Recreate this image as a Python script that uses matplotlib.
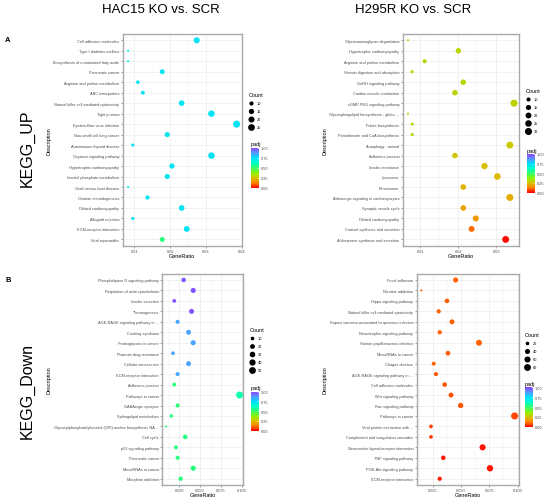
import numpy as np
import matplotlib
matplotlib.use('Agg')
import matplotlib.pyplot as plt
from matplotlib.colors import LinearSegmentedColormap, Normalize
from matplotlib.cm import ScalarMappable
from matplotlib.lines import Line2D
from matplotlib.ticker import MultipleLocator, FormatStrFormatter

plt.rcParams['font.family'] = ['Liberation Sans', 'DejaVu Sans']

# ---- data ----
up_hac_terms = ['Cell adhesion molecules', 'Type I diabetes mellitus',
                'Biosynthesis of unsaturated fatty acids', 'Pancreatic cancer',
                'Arginine and proline metabolism', 'ABC transporters',
                'Natural killer cell mediated cytotoxicity', 'Tight junction',
                'Epstein-Barr virus infection', 'Non-small cell lung cancer',
                'Autoimmune thyroid disease', 'Oxytocin signaling pathway',
                'Hypertrophic cardiomyopathy', 'Inositol phosphate metabolism',
                'Graft-versus-host disease', 'Ovarian steroidogenesis',
                'Dilated cardiomyopathy', 'Allograft rejection',
                'ECM-receptor interaction', 'Viral myocarditis']
up_hac_ratio = [0.0274, 0.0083, 0.0083, 0.0178, 0.0110, 0.0124, 0.0232, 0.0315, 0.0385, 0.0192,
                0.0096, 0.0315, 0.0205, 0.0192, 0.0083, 0.0137, 0.0232, 0.0096, 0.0246, 0.0178]
up_hac_count = [20, 6, 6, 13, 8, 9, 17, 23, 28, 14, 7, 23, 15, 14, 6, 10, 17, 7, 18, 13]
up_hac_padj = [0.72] * 19 + [0.52]

up_h295_terms = ['Glycosaminoglycan degradation', 'Hypertrophic cardiomyopathy',
                 'Arginine and proline metabolism', 'Vitamin digestion and absorption',
                 'GnRH signaling pathway', 'Cardiac muscle contraction',
                 'cGMP-PKG signaling pathway', 'Glycosphingolipid biosynthesis - globo ...',
                 'Folate biosynthesis', 'Pantothenate and CoA biosynthesis',
                 'Autophagy - animal', 'Adherens junction', 'Insulin resistance',
                 'Lysosome', 'Peroxisome', 'Adrenergic signaling in cardiomyocytes',
                 'Synaptic vesicle cycle', 'Dilated cardiomyopathy',
                 'Cortisol synthesis and secretion', 'Aldosterone synthesis and secretion']
up_h295_ratio = [0.0067, 0.0200, 0.0111, 0.0078, 0.0213, 0.0191, 0.0347, 0.0067, 0.0078, 0.0078,
                 0.0336, 0.0191, 0.0269, 0.0303, 0.0213, 0.0336, 0.0213, 0.0246, 0.0235, 0.0325]
up_h295_count = [6, 17, 10, 7, 18, 17, 30, 6, 7, 7, 29, 17, 23, 26, 18, 29, 18, 21, 20, 28]
up_h295_padj = [0.31, 0.30, 0.30, 0.30, 0.30, 0.29, 0.29, 0.30, 0.30, 0.30,
                0.27, 0.26, 0.25, 0.24, 0.23, 0.21, 0.19, 0.17, 0.10, 0.01]

down_hac_terms = ['Phospholipase D signaling pathway', 'Regulation of actin cytoskeleton',
                  'Insulin secretion', 'Thermogenesis', 'AGE-RAGE signaling pathway in ...',
                  'Cushing syndrome', 'Proteoglycans in cancer', 'Platinum drug resistance',
                  'Cellular senescence', 'ECM-receptor interaction', 'Adherens junction',
                  'Pathways in cancer', 'GABAergic synapse', 'Sphingolipid metabolism',
                  'Glycosylphosphatidylinositol (GPI)-anchor biosynthesis NA ...',
                  'Cell cycle', 'p53 signaling pathway', 'Pancreatic cancer',
                  'MicroRNAs in cancer', 'Morphine addiction']
down_hac_ratio = [0.0302, 0.0417, 0.0190, 0.0397, 0.0230, 0.0361, 0.0417, 0.0175, 0.0361, 0.0230,
                  0.0190, 0.0972, 0.0230, 0.0155, 0.0091, 0.0321, 0.0210, 0.0230, 0.0417, 0.0266]
down_hac_count = [17, 24, 11, 23, 13, 21, 24, 10, 21, 13, 11, 55, 13, 9, 5, 18, 12, 13, 24, 15]
down_hac_padj = [0.97, 0.97, 0.97, 0.97, 0.85, 0.85, 0.85, 0.85, 0.85, 0.84,
                 0.53, 0.58, 0.53, 0.53, 0.53, 0.53, 0.53, 0.53, 0.53, 0.53]

down_h295_terms = ['Focal adhesion', 'Nicotine addiction', 'Hippo signaling pathway',
                   'Natural killer cell mediated cytotoxicity',
                   'Kaposi sarcoma-associated herpesvirus infection',
                   'Neurotrophin signaling pathway', 'Human papillomavirus infection',
                   'MicroRNAs in cancer', 'Chagas disease', 'AGE-RAGE signaling pathway in ...',
                   'Cell adhesion molecules', 'Wnt signaling pathway', 'Ras signaling pathway',
                   'Pathways in cancer', 'Viral protein interaction with ...',
                   'Complement and coagulation cascades',
                   'Neuroactive ligand-receptor interaction', 'TNF signaling pathway',
                   'PI3K-Akt signaling pathway', 'ECM-receptor interaction']
down_h295_ratio = [0.0453, 0.0150, 0.0376, 0.0303, 0.0421, 0.0312, 0.0659, 0.0385, 0.0259, 0.0279,
                   0.0356, 0.0412, 0.0497, 0.0974, 0.0235, 0.0235, 0.0691, 0.0344, 0.0756, 0.0312]
down_h295_count = [40, 13, 33, 27, 37, 27, 58, 34, 23, 25, 31, 36, 44, 86, 21, 21, 61, 30, 67, 27]
down_h295_padj = [0.09, 0.09, 0.09, 0.09, 0.09, 0.09, 0.09, 0.09, 0.09, 0.08,
                  0.08, 0.08, 0.08, 0.07, 0.06, 0.06, 0.02, 0.02, 0.02, 0.03]

# ---- styling ----
W, H = 550, 502
padj_cmap = LinearSegmentedColormap.from_list('padj', [
    (0.00, '#FF0000'), (0.12, '#FF8000'), (0.25, '#D8C000'), (0.35, '#99EE00'),
    (0.50, '#33FF66'), (0.62, '#00FFCC'), (0.75, '#00DDFF'), (0.87, '#5599FF'),
    (1.00, '#9040FF')])
GREY_TXT = '#4D4D4D'


def box(l, t, r, b):
    return [l / W, 1 - b / H, (r - l) / W, (b - t) / H]


def dot_diam(c, cmin, cmax, dmin=1.5, dmax=5.1):
    x = np.clip((np.asarray(c, float) - cmin) / (cmax - cmin), 0, 1)
    return dmin + np.sqrt(x) * (dmax - dmin)


def dotplot(fig, rect, terms, ratio, count, padj, step, fmt, breaks, leg_xy, cbar_rect, ylab_x, xlab_y):
    ax = fig.add_axes(box(*rect))
    y = np.arange(len(terms))
    cmin, cmax = min(count), max(count)
    ax.scatter(ratio, y, s=dot_diam(count, cmin, cmax) ** 2, c=padj, cmap=padj_cmap,
               vmin=0, vmax=1, linewidths=0, zorder=3)
    ax.set_ylim(len(terms) - 0.4, -0.6)
    ax.set_yticks(y)
    ax.set_yticklabels(terms, fontsize=2.7, color=GREY_TXT)
    ax.xaxis.set_major_locator(MultipleLocator(step))
    ax.xaxis.set_minor_locator(MultipleLocator(step / 2))
    ax.xaxis.set_major_formatter(FormatStrFormatter(fmt))
    ax.tick_params(axis='both', which='major', labelsize=2.8, labelcolor=GREY_TXT,
                   length=1.2, width=0.4, color='#555555', pad=1.2)
    ax.tick_params(axis='x', which='minor', length=0)
    ax.grid(True, which='major', color='#EBEBEB', lw=0.5, zorder=0)
    ax.grid(True, which='minor', axis='x', color='#F2F2F2', lw=0.3, zorder=0)
    ax.set_axisbelow(True)
    for sp in ax.spines.values():
        sp.set_color('#AAAAAA')
        sp.set_linewidth(1.0)

    l, t, r, b = rect
    fig.text(ylab_x / W, 1 - (t + b) / 2 / H, 'Description', rotation=90,
             ha='center', va='center', fontsize=4)
    fig.text((l + r) / 2 / W, 1 - xlab_y / H, 'GeneRatio', ha='center', va='center', fontsize=4)

    handles = [Line2D([], [], ls='none', marker='o', color='black', markeredgewidth=0,
                      markersize=dot_diam(bk, cmin, cmax)) for bk in breaks]
    ax.legend(handles, [str(bk) for bk in breaks], title='Count', loc='upper left',
              bbox_to_anchor=(leg_xy[0] / W, 1 - leg_xy[1] / H), bbox_transform=fig.transFigure,
              frameon=False, fontsize=2.8, title_fontsize=4, borderpad=0, borderaxespad=0,
              handlelength=1.0, handletextpad=0.9, labelspacing=1.05, alignment='left')

    cax = fig.add_axes(box(*cbar_rect))
    cb = fig.colorbar(ScalarMappable(Normalize(0, 1), padj_cmap), cax=cax)
    cb.set_ticks([0, 0.25, 0.5, 0.75, 1.0])
    cb.set_ticklabels(['0.00', '0.25', '0.50', '0.75', '1.00'])
    cb.outline.set_visible(False)
    cax.tick_params(labelsize=2.8, labelcolor=GREY_TXT, length=1.3, width=0.4,
                    color='white', direction='in', pad=1.5)
    cax.set_title('padj', fontsize=4, loc='left', pad=1.5)
    return ax


fig = plt.figure(figsize=(W / 100, H / 100), dpi=100)

dotplot(fig, (122.7, 35, 242, 246.7), up_hac_terms, up_hac_ratio, up_hac_count, up_hac_padj,
        0.01, '%.2f', [10, 15, 20, 25], (249, 93), (251, 148.5, 258.5, 189), 49, 257)
dotplot(fig, (402.7, 35, 519.3, 246.7), up_h295_terms, up_h295_ratio, up_h295_count, up_h295_padj,
        0.01, '%.2f', [10, 15, 20, 25, 30], (526, 89), (527, 155, 534.5, 193.5), 325, 257)
dotplot(fig, (162.3, 274.7, 243.3, 486), down_hac_terms, down_hac_ratio, down_hac_count, down_hac_padj,
        0.025, '%.3f', [10, 20, 30, 40, 50], (250, 328), (251, 392.5, 259, 431.5), 49, 496)
dotplot(fig, (416.7, 274.7, 519.3, 486), down_h295_terms, down_h295_ratio, down_h295_count, down_h295_padj,
        0.025, '%.3f', [20, 40, 60, 80], (525, 333), (525, 388, 533, 428), 325, 496)

fig.text(161 / W, 1 - 10 / H, 'HAC15 KO vs. SCR', ha='center', va='center', fontsize=9.5)
fig.text(413 / W, 1 - 10 / H, 'H295R KO vs. SCR', ha='center', va='center', fontsize=9.5)
fig.text(8 / W, 1 - 41 / H, 'A', ha='center', va='center', fontsize=5.5, fontweight='bold')
fig.text(8 / W, 1 - 281 / H, 'B', ha='center', va='center', fontsize=5.5, fontweight='bold')
fig.text(27 / W, 1 - 148 / H, 'KEGG_UP', rotation=90, ha='center', va='center', fontsize=11.5)
fig.text(27 / W, 1 - 391 / H, 'KEGG_Down', rotation=90, ha='center', va='center', fontsize=11.5)

fig.savefig('out.png', dpi=100)
